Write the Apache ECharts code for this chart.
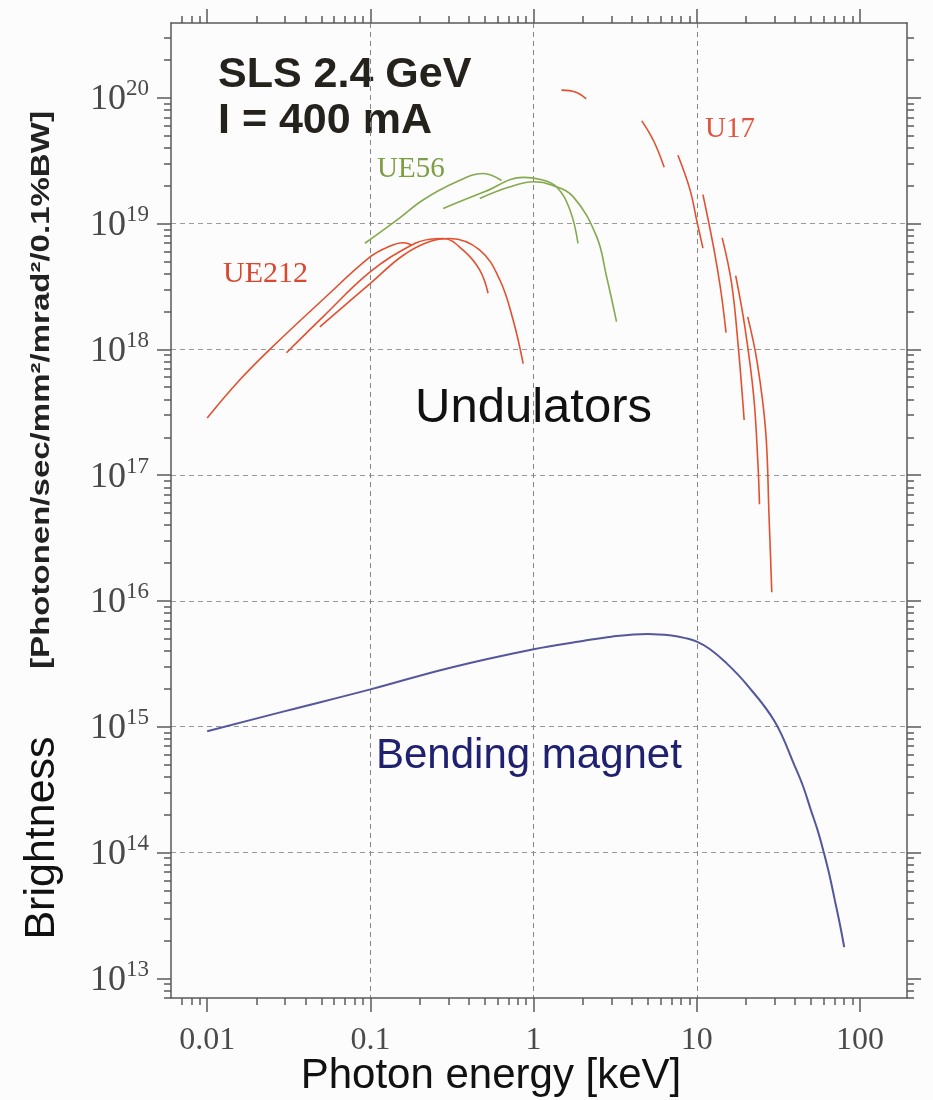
<!DOCTYPE html>
<html><head><meta charset="utf-8">
<script src="https://cdn.jsdelivr.net/npm/echarts@6/dist/echarts.min.js"></script>
<style>html,body{margin:0;padding:0;background:#fbfcfb}#c{width:933px;height:1100px}</style>
</head><body><div id="c"></div>
<script>
// ---------- axis / tick data ----------
const xTickValues = [0.01, 0.1, 1, 10, 100];
const xTickText = ['0.01', '0.1', '1', '10', '100'];
const yTickValues = [1e13, 1e14, 1e15, 1e16, 1e17, 1e18, 1e19, 1e20];
const yTickExp = ['13', '14', '15', '16', '17', '18', '19', '20'];
const xRange = [0.006, 194];
const yRange = [6.97e12, 3.93e20];

// ---------- series data: [photon energy keV, brightness] ----------
const bendingMagnet = [[0.01,9.2e14],[0.03,1.33e15],[0.1,1.98e15],[0.3,2.92e15],[1,4.13e15],[2,4.8e15],[3,5.2e15],[5,5.45e15],[7,5.3e15],[8.5,5.06e15],[10,4.75e15],[12,4.15e15],[15,3.25e15],[20,2.2e15],[30,1.1e15],[40,4.8e14],[45,3.3e14],[50,2.17e14],[55,1.5e14],[60,1.0e14],[65,6.6e13],[70,4.2e13],[75,2.75e13],[80,1.77e13]];

const ue212_1 = [[0.01,2.85e17],[0.0158,5.7e17],[0.0242,1.0e18],[0.0514,2.5e18],[0.1,5.45e18],[0.131,6.6e18],[0.159,7.03e18],[0.179,6.75e18]];
const ue212_2 = [[0.0306,9.4e17],[0.0514,1.82e18],[0.1,4.14e18],[0.179,6.75e18],[0.231,7.5e18],[0.279,7.6e18],[0.37,6.15e18],[0.468,4.27e18],[0.526,2.79e18]];
const ue212_3 = [[0.049,1.51e18],[0.1,3.35e18],[0.159,5.6e18],[0.231,7.2e18],[0.307,7.6e18],[0.468,6.15e18],[0.621,3.56e18],[0.749,1.71e18],[0.863,7.7e17]];

const ue56_1 = [[0.0925,6.97e18],[0.15,1.1e19],[0.21,1.54e19],[0.33,2.12e19],[0.491,2.5e19],[0.636,2.2e19]];
const ue56_2 = [[0.279,1.32e19],[0.5,1.79e19],[0.863,2.33e19],[1.1,2.24e19],[1.38,1.96e19],[1.67,1.28e19],[1.87,6.97e18]];
const ue56_3 = [[0.468,1.58e19],[0.7,1.94e19],[1.0,2.15e19],[1.3,2.02e19],[1.75,1.63e19],[2.43,7.9e18],[2.8,3.78e18],[3.22,1.66e18]];

const u17_0 = [[1.48,1.15e20],[1.8,1.11e20],[2.1,9.8e19]];
const u17_1 = [[4.60,6.55e19],[5.46,4.49e19],[6.31,2.80e19]];
const u17_2 = [[7.66,3.49e19],[9.08,1.86e19],[10.0,1.05e19],[10.9,6.38e18]];
const u17_3 = [[10.9,1.70e19],[12.7,6.38e18],[14.0,2.99e18],[15.1,1.36e18]];
const u17_4 = [[14.3,7.7e18],[16.3,3.4e18],[17.9,1.09e18],[19.5,2.74e17]];
const u17_5 = [[17.3,3.85e18],[19.7,1.5e18],[22.3,4.26e17],[23.7,1.21e17],[24.2,5.86e16]];
const u17_6 = [[20.5,1.81e18],[23.4,7.98e17],[26.4,2.26e17],[27.7,4.7e16],[28.8,1.17e16]];

// ---------- helpers ----------
function minorTicks(range) {
  const out = [];
  for (let n = -4; n <= 21; n++) for (let k = 2; k <= 9; k++) {
    const v = k * Math.pow(10, n);
    if (v > range[0] && v < range[1]) out.push(v);
  }
  return out;
}
function nearestIdx(arr, v) {
  let best = 0, bd = Infinity;
  arr.forEach((a, i) => { const d = Math.abs(Math.log10(a) - Math.log10(v)); if (d < bd) { bd = d; best = i; } });
  return best;
}
const AX = '#5a5a5a';
const SERIF = '"Liberation Serif", "DejaVu Serif", serif';
const SANS = '"Liberation Sans", Arial, sans-serif';

function mkX(pos, major, withLabel) {
  const ticks = major ? xTickValues : minorTicks(xRange);
  return {
    type: 'log', gridIndex: 0, position: pos, min: xRange[0], max: xRange[1],
    axisLine: { show: major, onZero: false, lineStyle: { color: AX, width: 1.5 } },
    axisTick: { show: true, inside: false, length: major ? 14 : 7, customValues: ticks, lineStyle: { color: AX, width: 1.5 } },
    axisLabel: withLabel ? {
      show: true, customValues: xTickValues, margin: 27, color: '#4a4a4a', fontFamily: SERIF, fontSize: 32,
      formatter: v => xTickText[nearestIdx(xTickValues, v)]
    } : { show: false },
    splitLine: withLabel ? { show: true, showMinLine: false, showMaxLine: false, lineStyle: { color: '#858585', type: [5, 4], width: 1 } } : { show: false },
    minorTick: { show: false }
  };
}
function mkY(pos, major, withLabel) {
  const ticks = major ? yTickValues : minorTicks(yRange);
  return {
    type: 'log', gridIndex: 0, position: pos, min: yRange[0], max: yRange[1],
    axisLine: { show: major, onZero: false, lineStyle: { color: AX, width: 1.5 } },
    axisTick: { show: true, inside: false, length: major ? 14 : 7, customValues: ticks, lineStyle: { color: AX, width: 1.5 } },
    axisLabel: withLabel ? {
      show: true, customValues: yTickValues, margin: 22, color: '#4a4a4a',
      formatter: v => '{b|10}{s|' + yTickExp[nearestIdx(yTickValues, v)] + '}',
      rich: {
        b: { fontFamily: SERIF, fontSize: 36, color: '#4a4a4a', lineHeight: 40, verticalAlign: 'bottom' },
        s: { fontFamily: SERIF, fontSize: 23, color: '#4a4a4a', lineHeight: 23, verticalAlign: 'top' }
      }
    } : { show: false },
    splitLine: withLabel ? { show: true, showMinLine: false, showMaxLine: false, lineStyle: { color: '#9a9a9a', type: [5, 4], width: 1 } } : { show: false },
    minorTick: { show: false }
  };
}
function curve(name, data, color, width) {
  return { name, type: 'line', data, xAxisIndex: 0, yAxisIndex: 0, showSymbol: false,
    smooth: 0.4, lineStyle: { color, width }, silent: true, z: 3 };
}
const RED = '#e2502f', GREEN = '#86a94e', BLUE = '#55569c';

const chart = echarts.init(document.getElementById('c'), null, { renderer: 'canvas' });
chart.setOption({
  animation: false,
  backgroundColor: '#fbfcfb',
  grid: { left: 171, top: 23, width: 736, height: 975, containLabel: false },
  xAxis: [mkX('bottom', true, true), mkX('top', true, false), mkX('bottom', false, false), mkX('top', false, false)],
  yAxis: [mkY('left', true, true), mkY('right', true, false), mkY('left', false, false), mkY('right', false, false)],
  series: [
    curve('Bending magnet', bendingMagnet, BLUE, 2),
    curve('UE212 a', ue212_1, RED, 1.6), curve('UE212 b', ue212_2, RED, 1.6), curve('UE212 c', ue212_3, RED, 1.6),
    curve('UE56 a', ue56_1, GREEN, 1.6), curve('UE56 b', ue56_2, GREEN, 1.6), curve('UE56 c', ue56_3, GREEN, 1.6),
    curve('U17 0', u17_0, RED, 1.6), curve('U17 1', u17_1, RED, 1.6), curve('U17 2', u17_2, RED, 1.6),
    curve('U17 3', u17_3, RED, 1.6), curve('U17 4', u17_4, RED, 1.6), curve('U17 5', u17_5, RED, 1.6), curve('U17 6', u17_6, RED, 1.6)
  ],
  graphic: [
    { type: 'text', x: 218, y: 75, style: { text: 'SLS 2.4 GeV', fill: '#25221e', font: 'bold 43px ' + SANS, verticalAlign: 'middle' } },
    { type: 'text', x: 218, y: 121, style: { text: 'I = 400 mA', fill: '#25221e', font: 'bold 43px ' + SANS, verticalAlign: 'middle' } },
    { type: 'text', x: 377, y: 169, style: { text: 'UE56', fill: '#7d9e45', font: '29px ' + SERIF, verticalAlign: 'middle' } },
    { type: 'text', x: 223, y: 274, style: { text: 'UE212', fill: '#d9472f', font: '30px ' + SERIF, verticalAlign: 'middle' } },
    { type: 'text', x: 705, y: 129, style: { text: 'U17', fill: '#e0553d', font: '29px ' + SERIF, verticalAlign: 'middle' } },
    { type: 'text', x: 415, y: 408, style: { text: 'Undulators', fill: '#111', font: '49px ' + SANS, verticalAlign: 'middle' } },
    { type: 'text', x: 376, y: 756, style: { text: 'Bending magnet', fill: '#1f2070', font: '42px ' + SANS, verticalAlign: 'middle' } },
    { type: 'text', x: 491, y: 1076, style: { text: 'Photon energy [keV]', fill: '#111', font: '42px ' + SANS, align: 'center', verticalAlign: 'middle' } },
    { type: 'text', x: 42, y: 838, rotation: Math.PI / 2, style: { text: 'Brightness', fill: '#111', font: '43px ' + SANS, align: 'center', verticalAlign: 'middle' } },
    { type: 'text', x: 42, y: 390, rotation: Math.PI / 2, scaleX: 1.27, style: { text: '[Photonen/sec/mm²/mrad²/0.1%BW]', fill: '#222', font: 'bold 26px ' + SANS, align: 'center', verticalAlign: 'middle' } }
  ]
});
</script></body></html>
